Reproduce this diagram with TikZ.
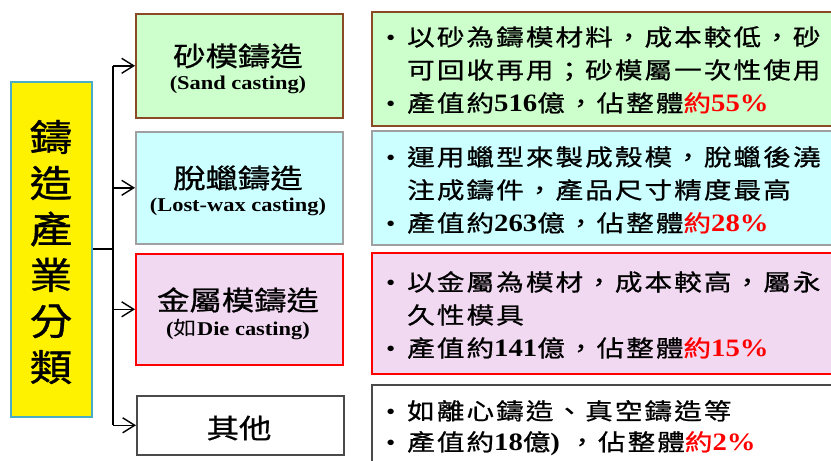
\documentclass[tikz,border=0pt]{standalone}
\usepackage{fontspec}
\usetikzlibrary{arrows.meta}
\setmainfont{Liberation Serif}[FakeStretch=1.15]
\newfontfamily\cjk{Noto Sans CJK TC}[FakeStretch=1.2,FakeBold=0.8]
\newfontfamily\cjks{Noto Sans CJK TC}[FakeStretch=1.2,LetterSpace=9,FakeBold=0.8]
\newfontfamily\cjkv{Noto Sans CJK TC}[FakeStretch=1.15,FakeBold=1]
\newfontfamily\cjkm{Noto Sans CJK TC}[FakeStretch=1.2]
\definecolor{gfill}{HTML}{CCFFCC}
\definecolor{cfill}{HTML}{CCFFFF}
\definecolor{pfill}{HTML}{F2D9F2}
\definecolor{brn}{HTML}{8B4A26}
\definecolor{gborder}{HTML}{A0A0A0}
\definecolor{dborder}{HTML}{4A4A4A}
\definecolor{yborder}{HTML}{4BACC6}
\definecolor{pred}{HTML}{FF0000}
\newcommand\lat[1]{{\rmfamily\bfseries\fontsize{25}{33}\selectfont #1}}
\newcommand\pct[1]{\textcolor{pred}{約\lat{#1}}}
\newcommand\bul{\makebox[21pt][l]{\rmfamily\textbullet}}
\newcommand\ind{\hspace*{21pt}}
\begin{document}
\begin{tikzpicture}[x=1pt,y=-1pt,
  box/.style={draw, line width=1.6pt, inner sep=0pt, anchor=north west},
  conn/.style={line width=1.6pt},
  arr/.style={conn, -{Straight Barb[length=12pt,width=15pt,line width=1.4pt]}},
  title/.style={font=\fontsize{27}{29}\selectfont\cjk, inner sep=0pt},
  sub/.style={font=\fontsize{19.5}{22}\selectfont\rmfamily\bfseries, inner sep=0pt},
  rtext/.style={font=\fontsize{23}{33}\selectfont\cjks, align=left, inner sep=0pt, anchor=west}]
\useasboundingbox (0,0) rectangle (831,461);
\clip (0,0) rectangle (831,461);

% main category box
\node[box, fill=yellow, draw=yborder, minimum width=81pt, minimum height=335pt] (Y) at (10,81) {};
\node[font=\fontsize{37}{46}\selectfont\cjkv, align=center, inner sep=0pt] (Yt) at (51,252) {鑄\\造\\產\\業\\分\\類};

% left boxes
\node[box, fill=gfill, draw=brn, minimum width=207pt, minimum height=104pt] (l1) at (135,13) {};
\node[box, fill=cfill, draw=gborder, minimum width=207pt, minimum height=112pt] (l2) at (135,131) {};
\node[box, fill=pfill, draw=pred, minimum width=207pt, minimum height=111pt] (l3) at (135,253) {};
\node[box, fill=white, draw=dborder, minimum width=207pt, minimum height=59pt] (l4) at (136,395) {};

\node[title] (l1a) at (238,56) {砂模鑄造};
\node[sub] (l1b) at (238,85) {(Sand casting)};
\node[title] (l2a) at (238,178) {脫蠟鑄造};
\node[sub] (l2b) at (238,207) {(Lost-wax casting)};
\node[title] (l3a) at (238,300) {金屬模鑄造};
\node[sub] (l3b) at (238,329) {({\cjkm\mdseries 如}Die casting)};
\node[title] (l4a) at (239,428) {其他};

% right boxes
\node[box, fill=gfill, draw=brn, minimum width=480pt, minimum height=114pt] (r1) at (371,11) {};
\node[box, fill=cfill, draw=gborder, minimum width=480pt, minimum height=114pt] (r2) at (371,130) {};
\node[box, fill=pfill, draw=pred, minimum width=480pt, minimum height=121pt] (r3) at (371,252) {};
\node[box, fill=white, draw=dborder, minimum width=480pt, minimum height=100pt] (r4) at (371,384) {};

\node[rtext] (t1) at (386,70) {\bul 以砂為鑄模材料，成本較低，砂\\
\ind 可回收再用；砂模屬一次性使用\\
\bul 產值約\lat{516}億，佔整體\pct{55\%}};
\node[rtext] (t2) at (386,190) {\bul 運用蠟型來製成殼模，脫蠟後澆\\
\ind 注成鑄件，產品尺寸精度最高\\
\bul 產值約\lat{263}億，佔整體\pct{28\%}};
\node[rtext] (t3) at (386,315) {\bul 以金屬為模材，成本較高，屬永\\
\ind 久性模具\\
\bul 產值約\lat{141}億，佔整體\pct{15\%}};
\node[rtext, font=\fontsize{23}{31}\selectfont\cjks] (t4) at (386,428) {\bul 如離心鑄造、真空鑄造等\\
\bul 產值約\lat{18}億\lat{)} ，佔整體\pct{2\%}};

% connectors
\coordinate (jx) at (113,249);
\draw[conn] (Y.east |- jx) -- (jx);
\draw[conn] (jx |- l1.west) -- (jx |- l4.west);
\draw[arr] (jx |- l1.west) -- (l1.west);
\draw[arr] (jx |- l2.west) -- (l2.west);
\draw[arr] (jx |- l3.west) -- (l3.west);
\draw[arr] (jx |- l4.west) -- (l4.west);
\end{tikzpicture}
\end{document}
